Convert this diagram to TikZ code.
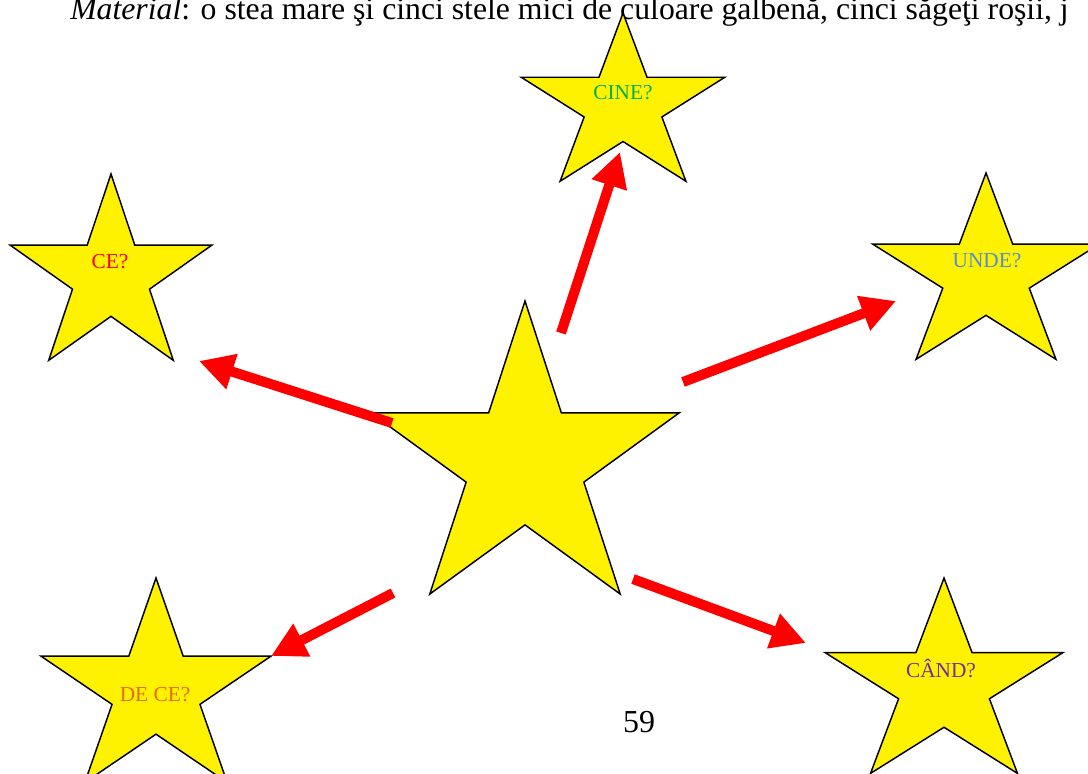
\documentclass[tikz,border=0pt]{standalone}
\usepackage{fontspec}
\setmainfont{Liberation Serif}
\usetikzlibrary{arrows.meta}
\definecolor{verdecine}{RGB}{0,176,80}
\definecolor{albastruunde}{RGB}{84,141,212}
\definecolor{portocaliu}{RGB}{228,108,10}
\definecolor{violetcand}{RGB}{112,48,160}
\begin{document}
\begin{tikzpicture}[x=0.75pt,y=-0.75pt,
    stea/.style={draw=black,fill=yellow,line width=1.1pt,line join=miter},
    sageata/.style={draw=red,line width=7.5pt,-{Triangle[length=26pt,width=26pt]}},
    eticheta/.style={font=\fontsize{16}{19}\selectfont}]
    \useasboundingbox (0,0) rectangle (1088,774);
    \clip (0,0) rectangle (1088,774);
    \node[anchor=base west,font=\fontsize{23.8}{28}\selectfont,inner sep=0pt] (titlu) at (70,20)
        {\textit{Material}: o stea mare şi cinci stele mici de culoare galbenă, cinci săgeţi roşii, j};
    % stelele
    \foreach \nume/\cx/\cy/\rx/\ry in {mare/525/463/162/162, ce/111/277/106/103, cine/623/106/107/93,
        unde/986/276/119/103, dece/156/691/121/113, cand/944/686/125/108}{
        \coordinate (\nume) at (\cx,\cy);
        \draw[stea,shift={(\nume)}] (-90:{\rx} and {\ry})
            \foreach \k in {1,...,9}{ -- ({-90+36*\k}:{\rx*(1-0.618*mod(\k,2))} and {\ry*(1-0.618*mod(\k,2))}) } -- cycle;
    }
    \node[eticheta,text=red] (tce) at (110,262) {CE?};
    \node[eticheta,text=verdecine] (tcine) at (623,93) {CINE?};
    \node[eticheta,text=albastruunde] (tunde) at (987,261) {UNDE?};
    \node[eticheta,text=portocaliu] (tdece) at (155,695) {DE CE?};
    \node[eticheta,text=violetcand] (tcand) at (941,668) {CÂND?};
    % sagetile
    \foreach \nume/\sx/\sy/\ex/\ey in {cine/561/333/620/152, unde/683/382/896/301, ce/392/423/199/361,
        dece/393/593/271/656, cand/633/579/806/643}{
        \coordinate (s\nume) at (\sx,\sy);
        \coordinate (e\nume) at (\ex,\ey);
        \draw[sageata] (s\nume) -- (e\nume);
    }
    \node[font=\fontsize{24}{28}\selectfont] (pagina) at (639,722) {59};
\end{tikzpicture}
\end{document}
